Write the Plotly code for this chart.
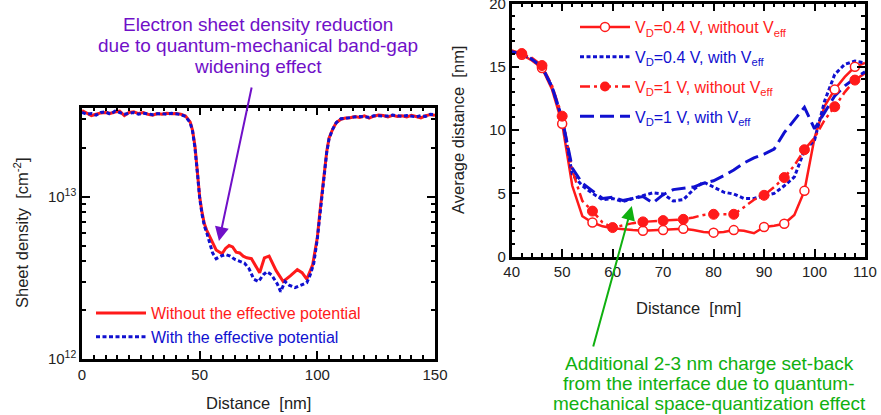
import plotly.graph_objects as go

# ---------------- Left panel: sheet density ----------------
dist_without = [0, 2, 4, 6, 8, 10, 12, 14, 16, 18, 20, 22, 24, 26, 28, 30, 32, 34, 36, 38, 40, 42, 44,
                46, 47, 48, 49, 50, 51, 52, 53, 55, 57, 59.5, 61, 62.5, 64, 65.5, 67, 68.5, 70, 72, 73.5,
                75.5, 77.5, 79.5, 82.5, 85.5, 88.5, 91.5, 93.5, 95.5, 98, 100, 101, 102, 103, 104, 105,
                106.5, 108, 110, 112, 114, 116, 118, 120, 122, 124, 126, 128, 130, 132, 134, 136, 138,
                140, 142, 144, 146, 148, 150]
dens_without = [3.39e13, 3.28e13, 3.16e13, 3.22e13, 3.28e13, 3.30e13, 3.26e13, 3.32e13, 3.36e13, 3.16e13,
                3.30e13, 3.33e13, 3.25e13, 3.30e13, 3.22e13, 3.18e13, 3.25e13, 3.22e13, 3.26e13, 3.24e13,
                3.25e13, 3.22e13, 3.14e13, 2.88e13, 2.55e13, 2.05e13, 1.45e13, 1.0e13, 0.80e13, 0.68e13,
                0.62e13, 0.54e13, 0.47e13, 0.445e13, 0.48e13, 0.50e13, 0.49e13, 0.455e13, 0.45e13, 0.43e13,
                0.42e13, 0.415e13, 0.38e13, 0.34e13, 0.42e13, 0.43e13, 0.35e13, 0.30e13, 0.325e13, 0.355e13,
                0.34e13, 0.31e13, 0.38e13, 0.56e13, 0.78e13, 1.05e13, 1.45e13, 1.9e13, 2.3e13, 2.6e13,
                2.85e13, 3.0e13, 3.05e13, 3.06e13, 3.12e13, 3.08e13, 3.15e13, 3.05e13, 3.13e13, 3.18e13,
                3.16e13, 3.10e13, 3.17e13, 3.12e13, 3.15e13, 3.10e13, 3.17e13, 3.13e13, 3.06e13, 3.15e13,
                3.20e13, 3.17e13]

dist_with = [0, 2, 4, 6, 8, 10, 12, 14, 16, 18, 20, 22, 24, 26, 28, 30, 32, 34, 36, 38, 40, 42, 44,
             46, 47, 48, 49, 50, 51, 52, 53, 54, 55.5, 57, 59, 61, 63, 65, 67, 69, 71, 73, 75, 77, 78.5,
             80.5, 83, 84.4, 86.3, 88, 90.5, 93, 95.5, 97, 98.5, 100, 101, 102, 103, 104, 105, 106.5,
             108, 110, 112, 114, 116, 118, 120, 122, 124, 126, 128, 130, 132, 134, 136, 138, 140, 142,
             144, 146, 148, 150]
dens_with = [3.30e13, 3.22e13, 3.25e13, 3.18e13, 3.30e13, 3.33e13, 3.22e13, 3.36e13, 3.30e13, 3.22e13,
             3.26e13, 3.30e13, 3.22e13, 3.26e13, 3.24e13, 3.20e13, 3.24e13, 3.25e13, 3.22e13, 3.26e13,
             3.24e13, 3.20e13, 3.12e13, 2.85e13, 2.52e13, 2.0e13, 1.42e13, 0.98e13, 0.78e13, 0.66e13,
             0.60e13, 0.53e13, 0.45e13, 0.415e13, 0.43e13, 0.44e13, 0.43e13, 0.41e13, 0.40e13, 0.39e13,
             0.36e13, 0.31e13, 0.30e13, 0.33e13, 0.345e13, 0.33e13, 0.29e13, 0.26e13, 0.30e13, 0.285e13,
             0.275e13, 0.285e13, 0.295e13, 0.33e13, 0.39e13, 0.55e13, 0.76e13, 1.03e13, 1.42e13, 1.88e13,
             2.28e13, 2.6e13, 2.85e13, 3.02e13, 3.04e13, 3.08e13, 3.10e13, 3.12e13, 3.10e13, 3.08e13,
             3.15e13, 3.14e13, 3.12e13, 3.14e13, 3.18e13, 3.14e13, 3.12e13, 3.16e13, 3.14e13, 3.10e13,
             3.16e13, 3.12e13, 3.22e13, 3.20e13]

# ---------------- Right panel: average distance ----------------
dist_r = [40, 42, 44, 46, 48, 50, 52, 54, 56, 58, 60, 62, 64, 66, 68, 70, 72, 74, 76, 78, 80, 82, 84,
          86, 88, 90, 92, 94, 96, 98, 100, 102, 104, 106, 108, 110]
avg_04_without = [16.2, 15.95, 15.5, 14.9, 13.2, 10.5, 5.6, 3.2, 2.7, 2.4, 2.25, 2.15, 2.1, 2.05, 2.1,
                  2.1, 2.15, 2.2, 2.1, 1.95, 1.9, 1.95, 2.1, 2.05, 1.85, 2.35, 2.45, 2.6, 3.3, 5.2, 9.4,
                  11.9, 13.2, 14.2, 15.0, 15.3]
avg_04_with = [16.2, 16.0, 15.6, 15.0, 13.4, 10.9, 6.5, 5.6, 5.0, 4.5, 4.6, 4.35, 4.6, 4.8, 5.05, 4.95,
               4.4, 4.5, 5.3, 5.9, 5.5, 5.1, 4.95, 4.6, 4.6, 4.8, 5.0, 5.6, 6.3, 8.4, 9.2, 12.3, 14.4,
               15.2, 15.45, 15.3]
avg_1_without = [16.3, 16.05, 15.7, 15.1, 13.5, 11.1, 6.8, 4.4, 3.6, 2.7, 2.3, 2.5, 2.65, 2.75, 2.8,
                 2.85, 2.9, 2.95, 3.1, 3.3, 3.35, 3.35, 3.35, 3.9, 4.5, 4.85, 5.5, 6.25, 7.2, 8.45, 9.4,
                 10.8, 11.85, 13.0, 13.95, 14.5]
avg_1_with = [16.2, 16.0, 15.6, 15.0, 13.4, 10.9, 7.0, 5.8, 5.2, 4.6, 4.7, 4.45, 4.6, 4.75, 4.25, 4.9,
              5.3, 5.4, 5.5, 5.8, 6.0, 6.4, 6.85, 7.4, 7.8, 8.1, 8.5, 9.8, 10.8, 11.8, 10.1, 11.4, 12.7,
              13.5, 14.1, 14.6]
marks_04_without = [42, 46, 50, 56, 66, 70, 74, 80, 84, 90, 94, 98, 104, 108]
marks_1_without = [42, 46, 50, 56, 60, 66, 70, 74, 80, 84, 90, 94, 98, 104, 108]

note_left = ["Electron sheet density reduction",
             "due to quantum-mechanical band-gap",
             "widening effect"]
note_right = ["Additional 2-3 nm charge set-back",
              "from the interface due to quantum-",
              "mechanical space-quantization effect"]

RED = "#ff1a1a"
BLUE = "#1010d0"
PURPLE = "#7010c8"
GREEN = "#10b010"
TXT = "#222222"
FONT = "Liberation Sans, Arial, sans-serif"
W, H = 881, 415


def px(x):
    return x / W


def py(y):
    return 1 - y / H


fig = go.Figure()

# left traces
fig.add_trace(go.Scatter(x=dist_without, y=dens_without, mode="lines", xaxis="x", yaxis="y",
                         line=dict(color=RED, width=3), legend="legend",
                         name="<span style='color:%s'>Without the effective potential</span>" % RED))
fig.add_trace(go.Scatter(x=dist_with, y=dens_with, mode="lines", xaxis="x", yaxis="y",
                         line=dict(color=BLUE, width=3, dash="4px,2.5px"), legend="legend",
                         name="<span style='color:%s'>With the effective potential</span>" % BLUE))

# right traces (lines)
lk = dict(xaxis="x2", yaxis="y2", showlegend=False, mode="lines", hoverinfo="skip")
fig.add_trace(go.Scatter(x=dist_r, y=avg_04_without, line=dict(color=RED, width=2.5), **lk))
fig.add_trace(go.Scatter(x=dist_r, y=avg_04_with, line=dict(color=BLUE, width=3, dash="4px,2.5px"), **lk))
fig.add_trace(go.Scatter(x=dist_r, y=avg_1_without, line=dict(color=RED, width=2.5, dash="10px,4px,3px,4px"), **lk))
fig.add_trace(go.Scatter(x=dist_r, y=avg_1_with, line=dict(color=BLUE, width=3, dash="14px,6px"), **lk))

lookup_04 = dict(zip(dist_r, avg_04_without))
lookup_1 = dict(zip(dist_r, avg_1_without))
fig.add_trace(go.Scatter(x=marks_04_without, y=[lookup_04[v] for v in marks_04_without], mode="markers",
                         xaxis="x2", yaxis="y2", showlegend=False,
                         marker=dict(symbol="circle", size=9, color="white", line=dict(color=RED, width=1.5))))
fig.add_trace(go.Scatter(x=marks_1_without, y=[lookup_1[v] for v in marks_1_without], mode="markers",
                         xaxis="x2", yaxis="y2", showlegend=False,
                         marker=dict(symbol="circle", size=10, color=RED, line=dict(color=RED, width=1))))

# right legend entries
leg = [
    ("V<sub>D</sub>=0.4 V, without V<sub>eff</sub>", RED, dict(color=RED, width=2.5), "lines+markers",
     dict(symbol="circle", size=9, color="white", line=dict(color=RED, width=1.5))),
    ("V<sub>D</sub>=0.4 V, with V<sub>eff</sub>", BLUE, dict(color=BLUE, width=3, dash="4px,2.5px"), "lines", None),
    ("V<sub>D</sub>=1 V, without V<sub>eff</sub>", RED, dict(color=RED, width=2.5, dash="10px,4px,3px,4px"),
     "lines+markers", dict(symbol="circle", size=10, color=RED)),
    ("V<sub>D</sub>=1 V, with V<sub>eff</sub>", BLUE, dict(color=BLUE, width=3, dash="14px,6px"), "lines", None),
]
for i, (name, col, ln, mode, mk) in enumerate(leg):
    kw = dict(marker=mk) if mk else {}
    fig.add_trace(go.Scatter(x=[None], y=[None], xaxis="x2", yaxis="y2", mode=mode, line=ln,
                             legend="legend2", legendgroup="g%d" % i,
                             name="<span style='color:%s'>%s</span>" % (col, name), **kw))

axis_common = dict(showline=True, linecolor="black", linewidth=2.5, mirror="ticks", ticks="inside",
                   ticklen=8, tickwidth=1.5, tickcolor="black", showgrid=False, zeroline=False,
                   automargin=False, ticklabeloverflow="allow",
                   tickfont=dict(size=15, color=TXT, family=FONT))
minor_common = dict(ticks="inside", ticklen=4, tickwidth=1.5, tickcolor="black")

fig.update_layout(
    width=W, height=H, margin=dict(l=0, r=0, t=0, b=0, autoexpand=False),
    paper_bgcolor="white", plot_bgcolor="white",
    font=dict(family=FONT, size=15, color=TXT),
    xaxis=dict(domain=[px(82), px(435)], anchor="y", range=[0, 150], tickvals=[0, 50, 100, 150],
               minor=dict(dtick=5, tick0=0, **minor_common), **axis_common),
    yaxis=dict(domain=[py(359), py(107.7)], anchor="x", type="log", range=[12, 13.548],
               tickvals=[1e12, 1e13], ticktext=["10<sup>12</sup>", "10<sup>13</sup>"],
               minor=dict(dtick="D1", **minor_common), **axis_common),
    xaxis2=dict(domain=[px(511.7), px(865)], anchor="y2", range=[40, 110], dtick=10, tick0=40,
                minor=dict(dtick=2, **minor_common), **axis_common),
    yaxis2=dict(domain=[py(256.7), py(3.5)], anchor="x2", range=[0, 20], dtick=5,
                minor=dict(dtick=1, **minor_common), **axis_common),
    legend=dict(x=px(91), y=py(296), xanchor="left", yanchor="top", bgcolor="rgba(0,0,0,0)",
                font=dict(size=16, family=FONT), itemwidth=50, tracegroupgap=0),
    legend2=dict(x=px(575), y=py(10), xanchor="left", yanchor="top", bgcolor="rgba(0,0,0,0)",
                 font=dict(size=16, family=FONT), itemwidth=50, tracegroupgap=6),
    showlegend=True,
)

ak = dict(xref="paper", yref="paper", showarrow=False, xanchor="center", yanchor="middle")
# axis titles
fig.add_annotation(x=px(258.5), y=py(403), text="Distance  [nm]",
                   font=dict(size=16.5, color=TXT, family=FONT), **ak)
fig.add_annotation(x=px(688), y=py(308), text="Distance  [nm]",
                   font=dict(size=16.5, color=TXT, family=FONT), **ak)
fig.add_annotation(x=px(21), y=py(233), textangle=-90, text="Sheet density  [cm<sup>-2</sup>]",
                   font=dict(size=16.5, color=TXT, family=FONT), **ak)
fig.add_annotation(x=px(458), y=py(130), textangle=-90, text="Average distance  [nm]",
                   font=dict(size=16.5, color=TXT, family=FONT), **ak)

# notes
for line, yy in zip(note_left, [24, 45, 66]):
    fig.add_annotation(x=px(257.5), y=py(yy), text=line, font=dict(size=19, color=PURPLE, family=FONT), **ak)
for line, yy in zip(note_right, [363, 383, 403]):
    fig.add_annotation(x=px(709), y=py(yy), text=line, font=dict(size=19, color=GREEN, family=FONT), **ak)

fig.add_annotation(x=58.2, y=12.727, xref="x", yref="y", ax=33, ay=-155, axref="pixel", ayref="pixel",
                   text="", showarrow=True, arrowhead=2, arrowsize=1.4, arrowwidth=2, arrowcolor=PURPLE)
fig.add_annotation(x=63.8, y=4.0, xref="x2", yref="y2", ax=-39, ay=142, axref="pixel", ayref="pixel",
                   text="", showarrow=True, arrowhead=2, arrowsize=1.4, arrowwidth=2, arrowcolor=GREEN)

# remove the default page margin so the figure sits at the window's top-left corner
fig.write_html("out.html", config={"displayModeBar": False},
               post_script="document.body.style.margin='0';")
